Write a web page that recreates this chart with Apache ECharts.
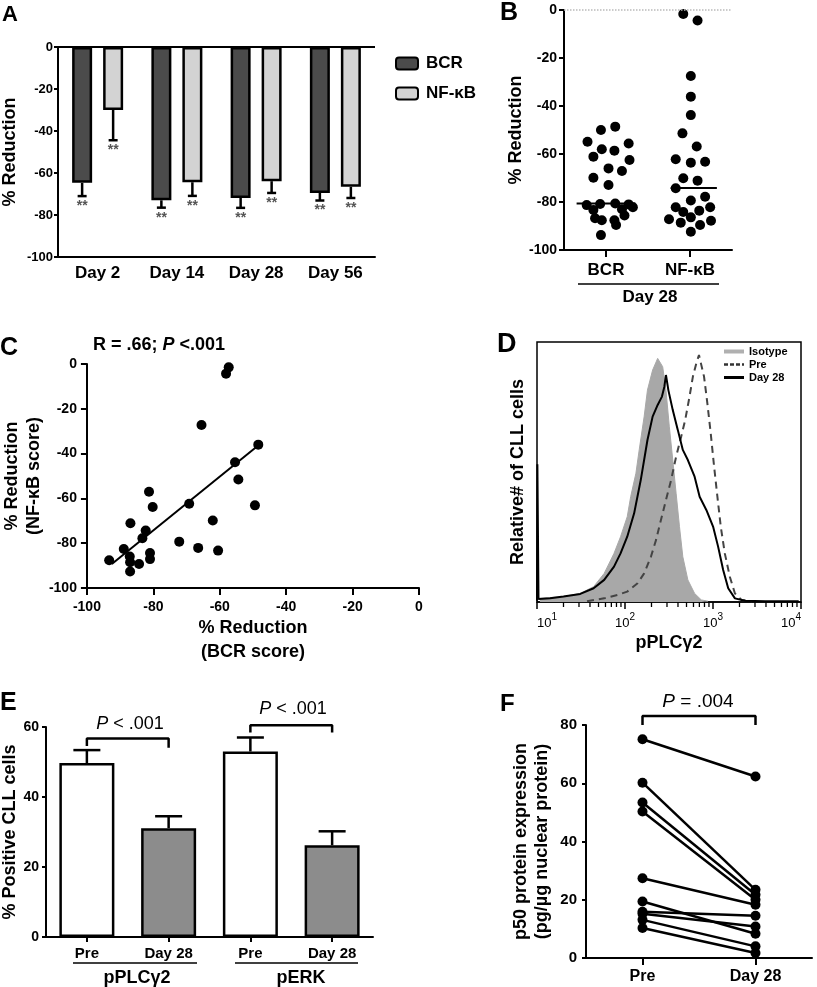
<!DOCTYPE html>
<html><head><meta charset="utf-8">
<script src="https://cdn.jsdelivr.net/npm/echarts@6/dist/echarts.min.js"></script>
<style>html,body{margin:0;padding:0;background:#fff}#c{width:817px;height:987px}</style>
</head><body><div id="c"></div>
<script>
const FONT = "'Liberation Sans', Arial, Helvetica, sans-serif";

// ---------- Panel A ----------
const aDays = ['Day 2', 'Day 14', 'Day 28', 'Day 56'];
const aBCR = [-64.7, -73.0, -71.9, -69.5];
const aBCRsem = [6.3, 3.5, 4.7, 3.6];
const aNF = [-30.0, -64.4, -63.9, -66.6];
const aNFsem = [14.4, 6.5, 5.6, 5.3];
const aSig = ['**', '**', '**', '**'];

// ---------- Panel B ----------
const bCats = ['BCR', 'NF-κB'];
const bBCRx = [0.44, 0.61, 0.28, 0.77, 0.45, 0.60, 0.35, 0.78, 0.53, 0.69, 0.35, 0.53,
               0.61, 0.43, 0.77, 0.27, 0.82, 0.35, 0.69, 0.72, 0.37, 0.45, 0.60, 0.62, 0.44];
const bBCRy = [-50.0, -48.6, -54.9, -55.6, -58.0, -58.6, -61.1, -62.5, -66.0, -67.1, -69.9, -72.9,
               -80.6, -80.8, -81.0, -81.3, -82.2, -83.3, -83.0, -85.6, -86.8, -87.6, -87.6, -89.6, -93.8];
const bNFx = [1.42, 1.59, 1.51, 1.51, 1.51, 1.41, 1.58, 1.33, 1.51, 1.68, 1.42, 1.59, 1.33,
              1.68, 1.51, 1.33, 1.42, 1.61, 1.74, 1.25, 1.39, 1.51, 1.62, 1.75, 1.51];
const bNFy = [-1.7, -4.4, -27.5, -36.1, -43.8, -51.4, -56.9, -62.2, -63.6, -63.2, -70.1, -71.1, -74.3,
              -77.8, -79.4, -82.2, -84.2, -83.6, -82.2, -87.2, -88.6, -86.4, -89.6, -87.8, -92.4];
const bMedians = [-80.6, -74.2];

// ---------- Panel C ----------
const cBCR = [-57.3, -58.1, -65.5, -48.4, -55.4, -54.4, -69.2, -49.4, -62.1, -81.3, -80.2, -86.9, -82.3,
              -83.3, -72.2, -66.5, -60.5, -88.9, -81.0, -81.0, -87.1, -93.3, -87.0, -84.3, -87.0];
const cNF = [-1.5, -4.3, -27.2, -36.0, -43.9, -51.6, -62.4, -63.1, -69.9, -57.0, -63.8, -71.1, -74.3,
             -77.8, -79.3, -82.1, -83.3, -82.6, -84.4, -87.1, -85.9, -87.6, -88.5, -89.3, -92.6];
const cFitX = [-92.5, -48.8];
const cFitY = [-89.3, -36.8];

// ---------- Panel D ----------
const isoX = [10.8, 20, 31, 44, 58, 75, 89, 106, 116, 133, 145, 165, 180, 206, 235, 268, 292, 319, 349, 381, 416, 454, 518, 618, 736, 879];
const isoY = [1.4, 2.1, 3.3, 5.9, 11, 18.7, 25.1, 32.8, 40.5, 49.5, 58.5, 71.3, 81.5, 89.2, 93.7, 90.5, 81.5, 67.4, 54.6, 41.8, 29, 17.4, 8.5, 3.3, 0.8, 0.3];
const preX = [37, 58, 82, 106, 139, 165, 197, 225, 256, 292, 334, 381, 435, 483, 541, 591, 646, 693, 736, 791, 863, 942, 1030, 1122, 1225, 1362, 1553, 1776, 2113, 2754];
const preY = [0.3, 1.4, 2.7, 4, 7.2, 11, 17.4, 23.8, 31.5, 39.2, 46.9, 55.9, 63.6, 70, 79, 86.7, 91.8, 95, 91.2, 86.7, 76.4, 64.9, 52, 40.5, 29, 18.7, 9.7, 3.3, 0.8, 0.3];
const d28X = [10, 10.1, 10.4, 14.1, 20, 31, 44, 58, 75, 89, 106, 127, 151, 180, 206, 235, 263, 280, 292, 311, 349, 398, 454, 518, 618, 705, 840, 1002, 1143, 1305, 1489, 1776, 2307, 3908, 9420];
const d28Y = [0.5, 53, 1.2, 1.4, 2.1, 3.1, 5.3, 8.5, 13.6, 18.7, 25.1, 34.1, 46.9, 62.3, 71.3, 75.8, 79, 82.8, 87.3, 81.5, 73.8, 66.2, 58.5, 54.6, 48.2, 40.5, 35.4, 29, 21.3, 12.3, 5.3, 1.4, 0.5, 0.3, 0.3];

// ---------- Panel E ----------
const eCats = ['Pre', 'Day 28', 'Pre', 'Day 28'];
const eGroups = ['pPLCγ2', 'pERK'];
const eMeans = [49.7, 31.1, 53.0, 26.2];
const eSem = [3.7, 3.4, 4.0, 4.0];
const ePText = 'P < .001';

// ---------- Panel F ----------
const fCats = ['Pre', 'Day 28'];
const fPre = [75.1, 60.2, 53.4, 50.3, 27.4, 19.4, 15.9, 15.2, 13.1, 10.3];
const fDay28 = [62.3, 23.4, 21.7, 20.0, 18.3, 8.3, 14.5, 10.8, 4.0, 1.7];

// ================= styles / helpers =================
const B = (size, extra) => Object.assign({fontFamily: FONT, fontWeight: 'bold', fontSize: size, color: '#000'}, extra || {});
const axLine = {show: true, onZero: false, lineStyle: {color: '#000', width: 2}};
const tick = (len, extra) => Object.assign({show: true, length: len, lineStyle: {color: '#000', width: 2}}, extra || {});
const noSplit = {show: false};
const zip = (xs, ys) => xs.map((x, i) => [x, ys[i]]);
const dot = {color: '#000', opacity: 1};

function errSeries(xi, yi, means, sems, dir, offset, capHalf, sig) {
  return {
    type: 'custom', xAxisIndex: xi, yAxisIndex: yi, z: 3, silent: true, clip: false,
    data: means.map((m, i) => [i, m, m + dir * sems[i]]),
    renderItem(params, api) {
      const i = api.value(0);
      const p0 = api.coord([i, api.value(1)]);
      const p1 = api.coord([i, api.value(2)]);
      const x = p0[0] + offset;
      const st = {stroke: '#000', lineWidth: 2.5};
      const ch = [
        {type: 'line', shape: {x1: x, y1: p0[1], x2: x, y2: p1[1]}, style: st},
        {type: 'line', shape: {x1: x - capHalf, y1: p1[1], x2: x + capHalf, y2: p1[1]}, style: st}
      ];
      if (sig) ch.push({type: 'text', style: {text: sig[i], x: x, y: p1[1] + 3, align: 'center', textAlign: 'center',
        verticalAlign: 'top', textVerticalAlign: 'top', fill: '#555', font: 'bold 14px ' + FONT}});
      return {type: 'group', children: ch};
    }
  };
}

const series = [];
// A
series.push({type: 'bar', name: 'BCR', xAxisIndex: 0, yAxisIndex: 0, data: aBCR, barWidth: 20, barGap: '55%',
  itemStyle: {color: '#4b4b4b', borderColor: '#000', borderWidth: 2.5},
  markLine: {silent: true, symbol: 'none', label: {show: false}, lineStyle: {color: '#000', width: 2, type: 'solid'}, data: [{yAxis: 0}]}});
series.push({type: 'bar', name: 'NF-κB', xAxisIndex: 0, yAxisIndex: 0, data: aNF, barWidth: 20, barGap: '55%',
  itemStyle: {color: '#d3d3d3', borderColor: '#000', borderWidth: 2.5}});
series.push(errSeries(0, 0, aBCR, aBCRsem, -1, -15.5, 4.5, aSig));
series.push(errSeries(0, 0, aNF, aNFsem, -1, 15.5, 4.5, aSig));
// B
series.push({type: 'scatter', name: 'B-BCR', xAxisIndex: 2, yAxisIndex: 1, data: zip(bBCRx, bBCRy), symbolSize: 10,
  itemStyle: dot,
  markLine: {silent: true, symbol: 'none', label: {show: false}, lineStyle: {color: '#bbb', width: 1.5, type: 'dotted'}, data: [{yAxis: 0}]}});
series.push({type: 'scatter', name: 'B-NF', xAxisIndex: 2, yAxisIndex: 1, data: zip(bNFx, bNFy), symbolSize: 10, itemStyle: dot});
series.push({type: 'line', name: 'B-med1', xAxisIndex: 2, yAxisIndex: 1, data: [[0.15, bMedians[0]], [0.85, bMedians[0]]],
  symbol: 'none', lineStyle: {color: '#000', width: 2}, z: 4});
series.push({type: 'line', name: 'B-med2', xAxisIndex: 2, yAxisIndex: 1, data: [[1.27, bMedians[1]], [1.82, bMedians[1]]],
  symbol: 'none', lineStyle: {color: '#000', width: 2}, z: 4});
// C
series.push({type: 'scatter', name: 'C-pts', xAxisIndex: 3, yAxisIndex: 2, data: zip(cBCR, cNF), symbolSize: 10, itemStyle: dot});
series.push({type: 'line', name: 'C-fit', xAxisIndex: 3, yAxisIndex: 2, data: zip(cFitX, cFitY), symbol: 'none', lineStyle: {color: '#000', width: 2}});
// D
series.push({type: 'line', name: 'Isotype', xAxisIndex: 4, yAxisIndex: 3, data: zip(isoX, isoY), symbol: 'none', z: 1,
  itemStyle: {color: '#a8a8a8'}, lineStyle: {color: '#a8a8a8', width: 1}, areaStyle: {color: '#a8a8a8', opacity: 1}});
series.push({type: 'line', name: 'Pre', xAxisIndex: 4, yAxisIndex: 3, data: zip(preX, preY), symbol: 'none', z: 2,
  itemStyle: {color: '#444'}, lineStyle: {color: '#444', width: 2, type: [7, 5]}});
series.push({type: 'line', name: 'Day 28', xAxisIndex: 4, yAxisIndex: 3, data: zip(d28X, d28Y), symbol: 'none', z: 3,
  itemStyle: {color: '#000'}, lineStyle: {color: '#000', width: 2}});
const minorTicks = [];
[10, 100, 1000].forEach(d => { for (let m = 2; m <= 9; m++) minorTicks.push([m * d, 0]); });
series.push({type: 'scatter', name: 'D-minor', xAxisIndex: 4, yAxisIndex: 3, data: minorTicks, symbol: 'rect',
  symbolSize: [1.3, 5], symbolOffset: [0, 2.5], itemStyle: dot, silent: true, clip: false});
// E
const eFill = ['#ffffff', '#8c8c8c', '#ffffff', '#8c8c8c'];
series.push({type: 'bar', name: 'E-bars', xAxisIndex: 5, yAxisIndex: 4, barWidth: 55,
  data: eMeans.map((v, i) => ({value: v, itemStyle: {color: eFill[i]}})),
  itemStyle: {borderColor: '#000', borderWidth: 2.5}});
series.push(errSeries(5, 4, eMeans, eSem, 1, 0, 13.5, null));
series.push({type: 'line', name: 'E-br1', xAxisIndex: 5, yAxisIndex: 4, data: [[0, 54.6], [0, 56.7], [1, 56.7], [1, 54.1]],
  symbol: 'none', clip: false, lineStyle: {color: '#000', width: 2.5}});
series.push({type: 'line', name: 'E-br2', xAxisIndex: 5, yAxisIndex: 4, data: [[2, 58.4], [2, 60.5], [3, 60.5], [3, 58.4]],
  symbol: 'none', clip: false, lineStyle: {color: '#000', width: 2.5}});
// F
fPre.forEach((v, i) => {
  series.push({type: 'line', name: 'F' + i, xAxisIndex: 6, yAxisIndex: 5, data: [v, fDay28[i]], symbol: 'circle', symbolSize: 10,
    itemStyle: dot, lineStyle: {color: '#000', width: 2.5}, clip: false});
});
series.push({type: 'line', name: 'F-br', xAxisIndex: 6, yAxisIndex: 5, data: [[0, 80], [0, 83.1], [1, 83.1], [1, 80]],
  symbol: 'none', clip: false, lineStyle: {color: '#000', width: 2.5}});

const txt = (text, x, y, font, align, extra) => ({type: 'text', x: x, y: y, silent: true,
  style: Object.assign({text: text, font: font, fill: '#000', align: align || 'left', textAlign: align || 'left',
    verticalAlign: 'middle', textVerticalAlign: 'middle'}, extra || {})});
const hline = (x1, x2, y) => ({type: 'line', silent: true, shape: {x1: x1, y1: y, x2: x2, y2: y}, style: {stroke: '#000', lineWidth: 1.5}});
const italicRich = (size, weight) => ({i: {fontStyle: 'italic', fontWeight: weight, fontSize: size, fontFamily: FONT, fill: '#000'},
  n: {fontWeight: weight, fontSize: size, fontFamily: FONT, fill: '#000'}});

const graphic = [
  txt('A', 2, 15, 'bold 22px ' + FONT),
  txt('B', 500, 13, 'bold 25px ' + FONT),
  txt('C', 0, 348, 'bold 25px ' + FONT),
  txt('D', 497, 345, 'bold 27px ' + FONT),
  txt('E', 0, 703, 'bold 25px ' + FONT),
  txt('F', 500, 704, 'bold 24px ' + FONT),
  // B group
  hline(578, 719, 284),
  txt('Day 28', 650, 297, 'bold 17px ' + FONT, 'center'),
  // C title
  txt('{n|R = .66; }{i|P}{n| <.001}', 93, 345, 'bold 18px ' + FONT, 'left', {rich: italicRich(18, 'bold')}),
  // E groups
  hline(73, 197, 963),
  hline(235, 358, 963),
  txt(eGroups[0], 137, 978, 'bold 18px ' + FONT, 'center'),
  txt(eGroups[1], 301, 978, 'bold 18px ' + FONT, 'center'),
  txt('{i|P}{n|' + ePText.slice(1) + '}', 130, 724, '18px ' + FONT, 'center', {rich: italicRich(18, 'normal')}),
  txt('{i|P}{n|' + ePText.slice(1) + '}', 293, 709, '18px ' + FONT, 'center', {rich: italicRich(18, 'normal')}),
  // F
  txt('{i|P}{n| = .004}', 698, 702, '19px ' + FONT, 'center', {rich: italicRich(19, 'normal')})
];

const option = {
  animation: false,
  backgroundColor: '#fff',
  textStyle: {fontFamily: FONT},
  grid: [
    {left: 58, top: 47, width: 317, height: 210},
    {left: 564, top: 10, width: 168, height: 240},
    {left: 83, top: 364, width: 336, height: 224},
    {left: 537, top: 342, width: 264, height: 260, show: true, borderColor: '#000', borderWidth: 1.5, backgroundColor: 'rgba(0,0,0,0)'},
    {left: 45, top: 727, width: 328, height: 210},
    {left: 586, top: 725, width: 226, height: 233}
  ],
  legend: [
    {left: 395, top: 55, orient: 'vertical', itemWidth: 22, itemHeight: 12, itemGap: 13, padding: 0, selectedMode: false,
      textStyle: B(17, {padding: [0, 0, 0, 3]}), data: ['BCR', 'NF-κB']},
    {left: 722, top: 346, orient: 'vertical', itemWidth: 20, itemHeight: 9, itemGap: 2, padding: 0, selectedMode: false,
      textStyle: B(11),
      data: [{name: 'Isotype', itemStyle: {opacity: 0}, lineStyle: {width: 4, color: '#b0b0b0'}},
             {name: 'Pre', itemStyle: {opacity: 0}, lineStyle: {width: 2.5, color: '#333', type: [4, 2]}},
             {name: 'Day 28', itemStyle: {opacity: 0}, lineStyle: {width: 3, color: '#000'}}]}
  ],
  xAxis: [
    {gridIndex: 0, type: 'category', data: aDays, axisLine: axLine, axisTick: {show: false},
      axisLabel: B(17, {margin: 8, interval: 0})},
    {gridIndex: 1, type: 'category', data: bCats, axisLine: axLine, axisTick: tick(7, {alignWithLabel: true}),
      axisLabel: B(17, {margin: 12, interval: 0})},
    {gridIndex: 1, type: 'value', min: 0, max: 2, show: false, splitLine: noSplit},
    {gridIndex: 2, type: 'value', min: -100, max: 0, interval: 20, axisLine: axLine, axisTick: tick(7), splitLine: noSplit,
      axisLabel: B(14, {margin: 12}), name: '% Reduction\n(BCR score)', nameLocation: 'middle', nameGap: 28,
      nameTextStyle: B(18, {lineHeight: 24})},
    {gridIndex: 3, type: 'log', logBase: 10, min: 10, max: 10000, axisLine: {show: true, onZero: false, lineStyle: {color: '#000', width: 1.5}},
      axisTick: {show: true, length: 7, lineStyle: {color: '#000', width: 1.5}}, splitLine: noSplit, minorTick: {show: false},
      axisLabel: {margin: 10, alignMinLabel: 'left', alignMaxLabel: 'right',
        formatter: v => '{b|10}{s|' + Math.round(Math.log10(v)) + '}',
        rich: {b: {fontFamily: FONT, fontSize: 13, color: '#000', verticalAlign: 'bottom', lineHeight: 18},
               s: {fontFamily: FONT, fontSize: 10, color: '#000', verticalAlign: 'top', lineHeight: 18}}},
      name: 'pPLCγ2', nameLocation: 'middle', nameGap: 32, nameTextStyle: B(18)},
    {gridIndex: 4, type: 'category', data: eCats, axisLine: axLine, axisTick: tick(5, {alignWithLabel: true}),
      axisLabel: B(15, {margin: 9, interval: 0})},
    {gridIndex: 5, type: 'category', data: fCats, axisLine: axLine, axisTick: tick(7, {alignWithLabel: true}),
      axisLabel: B(16, {margin: 11, interval: 0})}
  ],
  yAxis: [
    {gridIndex: 0, type: 'value', min: -100, max: 0, interval: 20, axisLine: axLine, axisTick: tick(4), splitLine: noSplit,
      axisLabel: B(13, {margin: 5}), name: '% Reduction', nameLocation: 'middle', nameGap: 39, nameTextStyle: B(18)},
    {gridIndex: 1, type: 'value', min: -100, max: 0, interval: 20, axisLine: axLine, axisTick: tick(5), splitLine: noSplit,
      axisLabel: B(14, {margin: 7}), name: '% Reduction', nameLocation: 'middle', nameGap: 36, nameTextStyle: B(18)},
    {gridIndex: 2, type: 'value', min: -100, max: 0, interval: 20, axisLine: axLine, axisTick: tick(6), splitLine: noSplit,
      axisLabel: B(14, {margin: 10}), name: '% Reduction\n(NF-κB score)', nameLocation: 'middle', nameGap: 39,
      nameTextStyle: B(18, {lineHeight: 22})},
    {gridIndex: 3, type: 'value', min: 0, max: 100, axisLine: {show: false}, axisTick: {show: false}, axisLabel: {show: false},
      splitLine: noSplit, name: 'Relative# of CLL cells', nameLocation: 'middle', nameGap: 10, nameTextStyle: B(18)},
    {gridIndex: 4, type: 'value', min: 0, max: 60, interval: 20, axisLine: axLine, axisTick: tick(4), splitLine: noSplit,
      axisLabel: B(14, {margin: 7}), name: '% Positive CLL cells', nameLocation: 'middle', nameGap: 27, nameTextStyle: B(18)},
    {gridIndex: 5, type: 'value', min: 0, max: 80, interval: 20, axisLine: axLine, axisTick: tick(4), splitLine: noSplit,
      axisLabel: B(15, {margin: 9}), name: 'p50 protein expression\n(pg/µg nuclear protein)', nameLocation: 'middle', nameGap: 33,
      nameTextStyle: B(18, {lineHeight: 21})}
  ],
  series: series,
  graphic: graphic
};

const chart = echarts.init(document.getElementById('c'), null, {renderer: 'canvas', width: 817, height: 987});
chart.setOption(option);
</script>
</body></html>
